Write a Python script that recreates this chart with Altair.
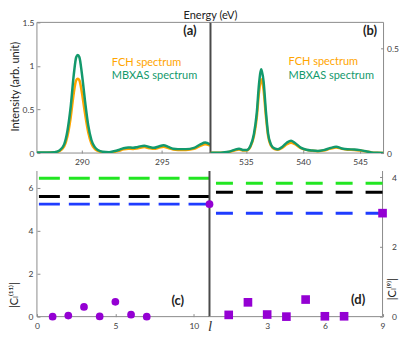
import altair as alt
import pandas as pd

# ---------------- data ----------------
a_energy = [287.2, 287.8, 288.3, 288.6, 288.9, 289.1, 289.3, 289.5, 289.65, 289.75, 289.85, 290.0,
            290.2, 290.4, 290.6, 290.8, 291.0, 291.3, 291.7, 292.0, 292.3, 292.6, 292.9, 293.2,
            293.5, 293.9, 294.2, 294.5, 294.8, 295.1, 295.4, 295.7, 296.0, 296.5, 297.0, 297.4,
            297.7, 298.0]
a_mbxas = [0.005, 0.005, 0.01, 0.03, 0.10, 0.25, 0.52, 0.90, 1.10, 1.125, 1.10, 0.92,
           0.60, 0.32, 0.15, 0.07, 0.035, 0.015, 0.01, 0.02, 0.035, 0.055, 0.065, 0.06,
           0.07, 0.085, 0.07, 0.06, 0.075, 0.09, 0.07, 0.05, 0.045, 0.045, 0.06, 0.10,
           0.12, 0.10]
a_fch = [0.003, 0.003, 0.008, 0.022, 0.075, 0.19, 0.40, 0.69, 0.835, 0.854, 0.835, 0.70,
         0.455, 0.24, 0.11, 0.05, 0.025, 0.01, 0.006, 0.012, 0.025, 0.042, 0.05, 0.047,
         0.055, 0.068, 0.056, 0.048, 0.06, 0.072, 0.056, 0.04, 0.036, 0.036, 0.048, 0.082,
         0.10, 0.085]

b_energy = [531.9, 532.8, 533.5, 534.0, 534.4, 534.8, 535.1, 535.4, 535.7, 535.95, 536.15, 536.35,
            536.55, 536.75, 536.95, 537.2, 537.5, 537.8, 538.2, 538.6, 538.95, 539.3, 539.8,
            540.3, 540.8, 541.3, 541.8, 542.4, 542.9, 543.4, 543.9, 544.5, 545.0, 545.5, 546.0,
            546.5, 547.05]
b_mbxas = [0.002, 0.002, 0.006, 0.015, 0.021, 0.014, 0.015, 0.035, 0.09, 0.19, 0.33, 0.40,
           0.34, 0.20, 0.09, 0.04, 0.022, 0.018, 0.03, 0.05, 0.059, 0.048, 0.026,
           0.016, 0.012, 0.01, 0.014, 0.024, 0.03, 0.022, 0.018, 0.017, 0.014, 0.009, 0.003,
           0.001, 0.0]
b_fch = [0.002, 0.002, 0.005, 0.012, 0.017, 0.012, 0.013, 0.03, 0.08, 0.168, 0.29, 0.352,
         0.30, 0.176, 0.08, 0.035, 0.019, 0.016, 0.026, 0.042, 0.049, 0.042, 0.024,
         0.015, 0.011, 0.009, 0.012, 0.021, 0.027, 0.02, 0.016, 0.015, 0.012, 0.008, 0.003,
         0.001, 0.0]

c_l = [1, 2, 3, 4, 5, 6, 7, 11]
c_val = [0.0, 0.05, 0.45, 0.01, 0.69, 0.09, 0.0, 5.23]
d_l = [1, 2, 3, 4, 5, 6, 7, 9]
d_val = [0.05, 0.41, 0.06, 0.0, 0.49, 0.01, 0.01, 2.97]

ref_names = ["green", "black", "blue"]
c_ref = [6.43, 5.58, 5.23]
d_ref = [3.83, 3.57, 2.97]

a_xdom = [287.2, 298.03]
a_ydom = [0, 1.5]
b_xdom = [531.9, 547.05]
b_ydom = [0, 0.623]
c_xdom = [0, 11]
c_ydom = [0, 6.77]
d_xdom = [0, 9]
d_ydom = [0, 4.18]

# ---------------- styles ----------------
FONT = "Lato, 'DejaVu Sans', sans-serif"
ORANGE = "#FFA500"
GREEN = "#13996C"
FRAME = "#8c8c8c"
MID = "#4a4a4a"
LABEL = "#404040"
PURPLE = "#9400D3"
REF_COLORS = ["#22e622", "#000000", "#1f3cff"]


def ax(vals, orient, pad, **kw):
    return alt.Axis(values=vals, orient=orient, format="~f", domain=False, grid=False,
                    tickSize=3, offset=-3, tickColor=FRAME, tickWidth=1,
                    labelPadding=pad, labelFont=FONT, labelFontSize=8.5, labelColor=LABEL,
                    labelFlush=False, labelOverlap=False, **kw)


TITLE = dict(titleFont=FONT, titleFontSize=11, titleFontWeight="normal", titleColor="#222",
             titleAlign="center", titleBaseline="middle", titleAngle=270)

one = pd.DataFrame({"k": [0]})


def rule(enc, color=FRAME, width=1):
    return alt.Chart(one).mark_rule(color=color, strokeWidth=width).encode(**enc)


def label(x, y, text, color="#222", size=11, bold=False, align="center", **kw):
    return alt.Chart(one).mark_text(font=FONT, fontSize=size, color=color, align=align,
                                    fontWeight="bold" if bold else "normal", **kw).encode(
        x=alt.datum(x), y=alt.datum(y), text=alt.value(text))


# ---------------- panel (a) ----------------
dfa = pd.DataFrame({"E": a_energy, "FCH": a_fch, "MBXAS": a_mbxas})
xa = ax([290, 295], "bottom", 4.5, title=None)
ya = ax([0, 0.5, 1, 1.5], "left", 3, title="Intensity (arb. unit)", titleX=-24.5, titleY=64, **TITLE)
sxa = alt.Scale(domain=a_xdom, nice=False, zero=False)
sya = alt.Scale(domain=a_ydom, nice=False, zero=False)
la1 = alt.Chart(dfa).mark_line(color=ORANGE, strokeWidth=2.5, interpolate="monotone", clip=True).encode(
    x=alt.X("E:Q", scale=sxa, axis=xa), y=alt.Y("FCH:Q", scale=sya, axis=ya))
la2 = alt.Chart(dfa).mark_line(color=GREEN, strokeWidth=2.5, interpolate="monotone", clip=True).encode(
    x=alt.X("E:Q", scale=sxa, axis=xa), y=alt.Y("MBXAS:Q", scale=sya, axis=ya))
panel_a = alt.layer(
    rule({"x": alt.datum(a_xdom[0])}),
    rule({"y": alt.datum(a_ydom[0])}),
    rule({"y": alt.datum(a_ydom[1])}),
    la1, la2,
    rule({"x": alt.datum(a_xdom[1])}, MID, 2),
    label(291.87, 1.034, "FCH spectrum", ORANGE, align="left"),
    label(291.87, 0.89, "MBXAS spectrum", GREEN, align="left"),
    label(296.75, 1.40, "(a)", size=13, bold=True),
    label(a_xdom[1], a_ydom[1], "Energy (eV)", baseline="bottom", dy=-1),
).properties(width=174, height=131)

# ---------------- panel (b) ----------------
dfb = pd.DataFrame({"E": b_energy, "FCH": b_fch, "MBXAS": b_mbxas})
xb = ax([535, 540, 545], "bottom", 4.5, title=None)
yb = ax([0, 0.5], "right", 3, title=None)
sxb = alt.Scale(domain=b_xdom, nice=False, zero=False)
syb = alt.Scale(domain=b_ydom, nice=False, zero=False)
lb1 = alt.Chart(dfb).mark_line(color=ORANGE, strokeWidth=2.5, interpolate="monotone", clip=True).encode(
    x=alt.X("E:Q", scale=sxb, axis=xb), y=alt.Y("FCH:Q", scale=syb, axis=yb))
lb2 = alt.Chart(dfb).mark_line(color=GREEN, strokeWidth=2.5, interpolate="monotone", clip=True).encode(
    x=alt.X("E:Q", scale=sxb, axis=xb), y=alt.Y("MBXAS:Q", scale=syb, axis=yb))
panel_b = alt.layer(
    rule({"y": alt.datum(b_ydom[0])}),
    rule({"y": alt.datum(b_ydom[1])}),
    rule({"x": alt.datum(b_xdom[1])}),
    lb1, lb2,
    label(538.73, 0.432, "FCH spectrum", ORANGE, align="left"),
    label(538.73, 0.369, "MBXAS spectrum", GREEN, align="left"),
    label(545.86, 0.58, "(b)", size=13, bold=True),
).properties(width=173.5, height=131)

# ---------------- panel (c) ----------------
dfc = pd.DataFrame({"l": c_l, "val": c_val})
dfc_ref = pd.DataFrame({"ref": ref_names, "val": c_ref})
xc = ax([0, 5, 10], "bottom", 5, title="l", titleFont="Liberation Serif", titleFontStyle="italic",
        titleFontSize=15, titleFontWeight="normal", titleColor="#333", titleX=173, titleY=5,
        titleAlign="center", titleBaseline="top")
yc = ax([0, 2, 4, 6], "left", 4, title="|Cₗ⁽¹¹⁾|", titleX=-25.5, titleY=124, **TITLE)
sxc = alt.Scale(domain=c_xdom, nice=False, zero=False)
syc = alt.Scale(domain=c_ydom, nice=False, zero=False)
refcol = alt.Color("ref:N", scale=alt.Scale(domain=ref_names, range=REF_COLORS), legend=None)
panel_c = alt.layer(
    rule({"x": alt.datum(c_xdom[0])}),
    rule({"y": alt.datum(c_ydom[0])}),
    alt.Chart(dfc_ref).mark_rule(strokeWidth=3, strokeDash=[21, 9]).encode(
        y=alt.Y("val:Q", scale=syc, axis=yc), color=refcol),
    rule({"x": alt.datum(c_xdom[1])}, MID, 2),
    alt.Chart(dfc).mark_circle(size=60, color=PURPLE, opacity=1).encode(
        x=alt.X("l:Q", scale=sxc, axis=xc), y=alt.Y("val:Q", scale=syc, axis=yc)),
    label(8.98, 0.72, "(c)", size=13, bold=True),
).properties(width=173, height=146)

# ---------------- panel (d) ----------------
dfd = pd.DataFrame({"l": d_l, "val": d_val})
dfd_ref = pd.DataFrame({"ref": ref_names, "val": d_ref})
xd = ax([3, 6, 9], "bottom", 5, title=None)
yd = ax([0, 2, 4], "right", 9, title="|Cₗ⁽⁹⁾|", titleX=13, titleY=118, **TITLE)
sxd = alt.Scale(domain=d_xdom, nice=False, zero=False)
syd = alt.Scale(domain=d_ydom, nice=False, zero=False)
panel_d = alt.layer(
    rule({"y": alt.datum(d_ydom[0])}),
    rule({"x": alt.datum(d_xdom[1])}),
    alt.Chart(dfd_ref).mark_rule(strokeWidth=3, strokeDash=[17, 13]).encode(
        y=alt.Y("val:Q", scale=syd, axis=yd), color=refcol),
    alt.Chart(dfd).mark_square(size=75, color=PURPLE, opacity=1).encode(
        x=alt.X("l:Q", scale=sxd, axis=xd), y=alt.Y("val:Q", scale=syd, axis=yd)),
    label(7.73, 0.49, "(d)", size=13, bold=True),
).properties(width=173.5, height=146)

top = alt.hconcat(panel_a, panel_b, spacing=0, bounds="flush")
bottom = alt.hconcat(panel_c, panel_d, spacing=0, bounds="flush")

chart = alt.vconcat(top, bottom, spacing=4).properties(
    padding={"top": 2, "left": 0, "right": 0, "bottom": 0}
).configure_view(stroke=None)

chart.save("out.html", embed_options={"renderer": "svg", "actions": False})
